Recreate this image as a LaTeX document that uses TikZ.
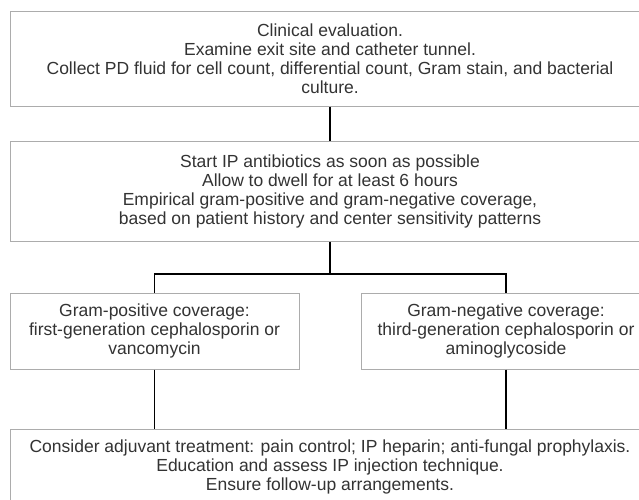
\documentclass[tikz,border=0pt]{standalone}
\usepackage{fontspec}
\setmainfont{Liberation Sans}
\usetikzlibrary{calc}

\begin{document}
\begin{tikzpicture}[x=1pt, y=-1pt,
	box/.style={draw=gray!65, line width=1pt, fill=white, align=center,
		text=black!80, inner sep=0pt, font=\fontsize{17.5}{19}\selectfont},
	link/.style={draw=black, line width=1.2pt}]
	% Parameters
	\def\wide{640}
	\def\half{289}
	\def\midx{330}
	\def\leftx{154.5}
	\def\rightx{506}
	\def\splity{274}

	% Frame (page size)
	\useasboundingbox (0,0) rectangle (639,499);
	\clip (0,0) rectangle (639,499);

	% Boxes
	\node[box, minimum width=\wide, minimum height=95] (eval) at (\midx,58.5)
		{Clinical evaluation.\\
		Examine exit site and catheter tunnel.\\
		Collect PD fluid for cell count, differential count, Gram stain, and bacterial\\
		culture.};
	\node[box, minimum width=\wide, minimum height=100] (start) at (\midx,191)
		{Start IP antibiotics as soon as possible\\
		Allow to dwell for at least 6 hours\\
		Empirical gram-positive and gram-negative coverage,\\
		based on patient history and center sensitivity patterns};
	\node[box, minimum width=\half, minimum height=76] (gpos) at (\leftx,331)
		{Gram-positive coverage:\\
		first-generation cephalosporin or\\
		vancomycin};
	\node[box, minimum width=\half, minimum height=76] (gneg) at (\rightx,331)
		{Gram-negative coverage:\\
		third-generation cephalosporin or\\
		aminoglycoside};
	\node[box, minimum width=\wide, minimum height=76] (adjuv) at (\midx,467)
		{Consider adjuvant treatment: pain control; IP heparin; anti-fungal prophylaxis.\\
		Education and assess IP injection technique.\\
		Ensure follow-up arrangements.};

	% Split point
	\coordinate (S) at (\midx,\splity);
	\coordinate (SL) at (gpos.north |- S);
	\coordinate (SR) at (gneg.north |- S);

	% Connectors
	\draw[link] (eval.south) -- (start.north);
	\draw[link] (start.south) -- (S);
	\draw[link] (gpos.north) -- (SL) -- (SR) -- (gneg.north);
	\draw[link] (gpos.south) -- (gpos.south |- adjuv.north);
	\draw[link] (gneg.south) -- (gneg.south |- adjuv.north);

\end{tikzpicture}
\end{document}
